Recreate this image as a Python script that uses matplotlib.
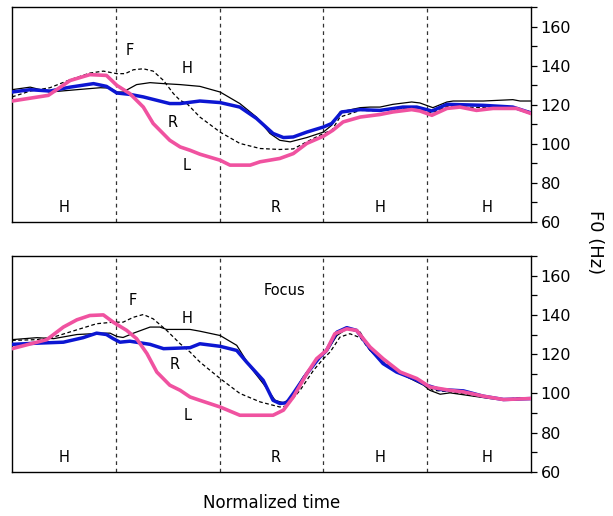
import matplotlib; matplotlib.use('Agg')
import matplotlib.pyplot as plt
from matplotlib.ticker import MultipleLocator

# normalized time (0-1) and F0 (Hz)
# --- upper panel ---
top_h_t = [0, 0.035, 0.073, 0.125, 0.170, 0.189, 0.202, 0.214, 0.240, 0.266, 0.292, 0.324, 0.362,
           0.401, 0.439, 0.471, 0.497, 0.516, 0.536, 0.568, 0.600, 0.616, 0.632, 0.671, 0.690, 0.709,
           0.734, 0.770, 0.786, 0.811, 0.838, 0.850, 0.908, 0.965, 0.979, 1.0]
top_h_f0 = [127.7, 129, 126.5, 127.7, 128.7, 128.5, 126.5, 126.5, 130.3, 131.3, 130.8, 130.3, 129.4,
            126.5, 120.6, 113.7, 105.3, 101.8, 101, 103.2, 106, 109.5, 116.3, 118.5, 118.8, 118.8,
            120.2, 121.4, 120.9, 118.5, 121.4, 121.9, 121.9, 122.6, 121.9, 121.9]

top_r_t = [0, 0.035, 0.073, 0.112, 0.157, 0.182, 0.202, 0.227, 0.253, 0.304, 0.324, 0.362, 0.401,
           0.439, 0.471, 0.503, 0.523, 0.542, 0.568, 0.600, 0.616, 0.635, 0.671, 0.709, 0.753, 0.780,
           0.809, 0.838, 0.908, 0.965, 1.0]
top_r_f0 = [126.5, 127.7, 127, 129, 130.8, 129.4, 126, 125.3, 124, 120.6, 120.6, 121.9, 121.1,
            118.8, 113, 105.3, 103.2, 103.5, 106, 108.6, 110.4, 116.3, 117.5, 117.1, 118.8, 118.8,
            116.8, 120.2, 119.7, 118.8, 115.8]

top_l_t = [0, 0.070, 0.112, 0.150, 0.182, 0.202, 0.227, 0.253, 0.272, 0.304, 0.324, 0.343, 0.362,
           0.401, 0.420, 0.459, 0.478, 0.516, 0.542, 0.568, 0.600, 0.618, 0.638, 0.671, 0.709, 0.734,
           0.770, 0.786, 0.809, 0.838, 0.863, 0.895, 0.927, 0.972, 1.0]
top_l_f0 = [121.9, 124.8, 132.4, 135.4, 135, 129.9, 125.7, 118.8, 110.4, 101.8, 98.4, 96.7, 94.7,
            91.6, 89.1, 89.1, 90.8, 92.5, 95, 100.2, 103.9, 106.9, 111.2, 113.7, 115, 116.3,
            117.5, 116.8, 114.6, 118.1, 118.8, 117.1, 118.1, 118.1, 115.5]

top_f_t = [0, 0.035, 0.073, 0.112, 0.150, 0.176, 0.202, 0.218, 0.234, 0.253, 0.272, 0.292, 0.311,
           0.324, 0.337, 0.362, 0.401, 0.439, 0.478, 0.516, 0.542, 0.568, 0.600, 0.616, 0.632, 0.671,
           0.709, 0.767, 0.809, 0.838, 0.908, 0.965, 1.0]
top_f_f0 = [124, 127, 128.7, 132.8, 136.2, 137.2, 135.9, 135.9, 137.9, 138.4, 137.2, 132.4, 125.7,
            122.2, 120.6, 113.7, 106, 100.2, 97.6, 97.1, 97.4, 101, 105.3, 106.9, 113.7, 117.1,
            116.8, 118.5, 115.8, 119.1, 118.5, 118.5, 116.3]

# --- lower panel (focus) ---
bot_h_t = [0, 0.048, 0.080, 0.125, 0.176, 0.189, 0.202, 0.214, 0.234, 0.266, 0.285, 0.298, 0.343,
           0.362, 0.401, 0.433, 0.459, 0.484, 0.507, 0.523, 0.536, 0.561, 0.587, 0.606, 0.626, 0.645,
           0.671, 0.690, 0.715, 0.748, 0.793, 0.805, 0.825, 0.844, 0.876, 0.921, 0.972, 1.0]
bot_h_f0 = [127.4, 128.4, 127.9, 130, 130.7, 130.7, 129, 128.5, 130.7, 133.8, 133.8, 132.6, 132.6,
            131.7, 129.5, 124.5, 113.5, 105, 96.5, 95.2, 97.4, 108.4, 116.9, 121.1, 129.5, 132.9,
            131.2, 121.9, 115.2, 110.1, 104.2, 101.6, 99.6, 100.3, 99.1, 97.4, 96.8, 97.4]

bot_r_t = [0, 0.048, 0.099, 0.137, 0.163, 0.182, 0.195, 0.208, 0.227, 0.266, 0.292, 0.343, 0.362,
           0.401, 0.433, 0.452, 0.484, 0.503, 0.516, 0.529, 0.542, 0.568, 0.593, 0.606, 0.626, 0.645,
           0.664, 0.690, 0.715, 0.741, 0.773, 0.799, 0.825, 0.870, 0.908, 0.947, 1.0]
bot_r_f0 = [125, 125.6, 126.1, 128.4, 130.7, 130, 127.9, 126.1, 126.6, 125, 122.8, 123.3, 125.3,
            124, 121.9, 116, 106.7, 96.5, 94.9, 95.2, 100, 110.1, 118.5, 121.9, 131.2, 133.5,
            132.1, 122.8, 115.2, 110.9, 107.6, 104.2, 102, 101.3, 98.6, 96.9, 97.4]

bot_l_t = [0, 0.067, 0.099, 0.125, 0.150, 0.176, 0.195, 0.221, 0.240, 0.260, 0.279, 0.304, 0.324,
           0.343, 0.362, 0.401, 0.439, 0.503, 0.523, 0.542, 0.568, 0.587, 0.606, 0.622, 0.645, 0.664,
           0.690, 0.715, 0.748, 0.780, 0.805, 0.844, 0.870, 0.908, 0.947, 1.0]
bot_l_f0 = [122.8, 127.4, 133.8, 137.5, 139.7, 140, 136.3, 132.1, 127.9, 120.3, 110.9, 104.2, 101.6,
            98.2, 96.5, 93.1, 88.9, 88.9, 91.5, 98.2, 110.1, 117.7, 121.9, 130.4, 132.9, 132.1,
            123.6, 117.7, 110.9, 107.6, 103.3, 101.6, 100.8, 98.6, 96.9, 97.4]

bot_f_t = [0, 0.048, 0.080, 0.125, 0.163, 0.195, 0.214, 0.234, 0.253, 0.272, 0.298, 0.324, 0.343,
           0.362, 0.401, 0.439, 0.478, 0.516, 0.529, 0.555, 0.581, 0.600, 0.613, 0.632, 0.651, 0.671,
           0.690, 0.715, 0.748, 0.793, 0.811, 0.844, 0.895, 0.947, 0.979, 1.0]
bot_f_f0 = [127, 127.4, 128.7, 132.4, 135.5, 136.3, 136.3, 138.8, 140.2, 138, 132.1, 125.3, 121.1,
            116, 107.6, 100, 95.7, 93.1, 93.6, 101.6, 111.8, 117.7, 121.1, 128.7, 130.4, 128.4,
            121.9, 116, 110.1, 105, 101.6, 100.8, 98.6, 96.9, 97.9, 97.4]

boundaries = [0.2, 0.4, 0.6, 0.8]
seg_labels = ['H', 'R', 'H', 'H']
seg_x = [0.10, 0.508, 0.71, 0.915]

PINK = '#f052a0'
BLUE = '#0c16d2'
FS = 10.5


def draw(ax, h, r, l, f, curve_labels, focus=False):
    ax.plot(*h, color='black', lw=0.9, zorder=3)
    ax.plot(*f, color='black', lw=0.9, ls=(0, (3, 2)), zorder=3)
    ax.plot(*r, color=BLUE, lw=2.5, zorder=4)
    ax.plot(*l, color=PINK, lw=2.6, zorder=5)
    for b in boundaries:
        ax.axvline(b, color='#333333', lw=0.9, ls=(0, (3, 3)), zorder=1)
    for s, x in zip(seg_labels, seg_x):
        ax.text(x, 67.5, s, ha='center', va='center', fontsize=FS)
    for s, (x, y) in curve_labels.items():
        ax.text(x, y, s, ha='center', va='center', fontsize=FS)
    if focus:
        ax.text(0.526, 152.5, 'Focus', ha='center', va='center', fontsize=FS)
    ax.set_xlim(0, 1)
    ax.set_ylim(60, 170)
    ax.set_xticks([])
    ax.yaxis.tick_right()
    ax.yaxis.set_minor_locator(MultipleLocator(10))
    ax.set_yticks([60, 80, 100, 120, 140, 160])
    ax.tick_params(axis='y', which='both', direction='out', length=4, width=0.9,
                   labelsize=11.5, pad=3)
    for sp in ax.spines.values():
        sp.set_linewidth(1.0)


fig = plt.figure(figsize=(6.13, 5.16), dpi=100)
ax1 = fig.add_axes([0.0196, 0.5698, 0.8466, 0.4166])
ax2 = fig.add_axes([0.0196, 0.0853, 0.8466, 0.4186])

draw(ax1, (top_h_t, top_h_f0), (top_r_t, top_r_f0), (top_l_t, top_l_f0), (top_f_t, top_f_f0),
     {'F': (0.227, 148), 'H': (0.337, 138.5), 'R': (0.310, 111), 'L': (0.337, 89)})
draw(ax2, (bot_h_t, bot_h_f0), (bot_r_t, bot_r_f0), (bot_l_t, bot_l_f0), (bot_f_t, bot_f_f0),
     {'F': (0.233, 147.5), 'H': (0.337, 138), 'R': (0.314, 114.5), 'L': (0.339, 89)}, focus=True)

fig.text(0.971, 0.531, 'F0 (Hz)', rotation=270, ha='center', va='center', fontsize=13)
fig.text(0.443, 0.025, 'Normalized time', ha='center', va='center', fontsize=12)

fig.savefig('out.png', dpi=100)
